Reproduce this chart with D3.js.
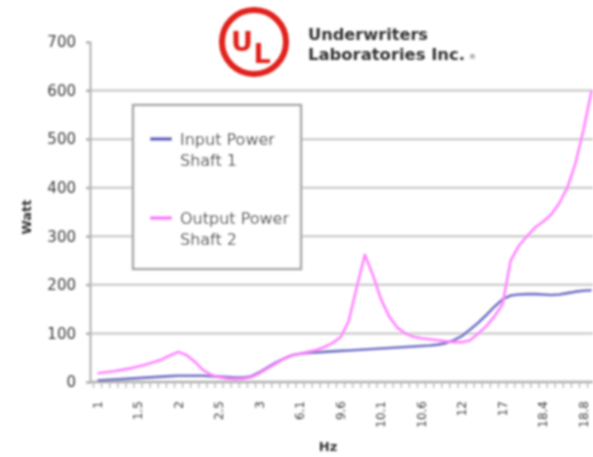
<!DOCTYPE html>
<html>
<head>
<meta charset="utf-8">
<script src="https://cdn.jsdelivr.net/npm/d3@7"></script>
<style>
  html, body { margin: 0; padding: 0; background: #fff; }
  svg { display: block; }
</style>
</head>
<body>
<svg id="chart" width="593" height="457"></svg>
<script>
// ---- data ----
const tickLabels = ["1", "1.5", "2", "2.5", "3", "6.1", "9.6", "10.1", "10.6", "12", "17", "18.4", "18.8"];
const labelEvery = 5;
const seriesNames = ["Input Power\nShaft 1", "Output Power\nShaft 2"];
const inputPower = [3, 4, 5, 6, 7, 8, 9, 10, 11, 12, 13, 13, 13, 13, 12, 11, 10, 9, 9, 12,
  20, 30, 40, 48, 55, 58, 60, 61, 62, 63, 64, 65, 66, 67, 68, 69, 70, 71, 72, 73,
  74, 75, 77, 80, 86, 95, 108, 122, 138, 155, 170, 178, 180, 181, 181, 180, 179, 180, 183, 186,
  188, 189];
const outputPower = [18, 20, 22, 25, 28, 32, 36, 41, 47, 55, 62, 55, 42, 25, 15, 10, 7, 6, 7, 10,
  18, 28, 38, 48, 55, 58, 62, 66, 72, 80, 92, 125, 195, 262, 220, 170, 135, 112, 100, 93,
  90, 88, 86, 84, 82, 82, 86, 100, 115, 135, 160, 250, 280, 300, 318, 330, 345, 368, 400, 450,
  520, 600];
const yTicks = [0, 100, 200, 300, 400, 500, 600, 700];
const colors = ["#6b6bc4", "#ff80ff"];

// ---- layout ----
const svg = d3.select("#chart");
const defs = svg.append("defs");
defs.append("filter").attr("id", "soft")
  .attr("x", "-5%").attr("y", "-5%").attr("width", "110%").attr("height", "110%")
  .append("feGaussianBlur").attr("stdDeviation", 0.9);

const root = svg.append("g").attr("filter", "url(#soft)");

const n = inputPower.length;
const plot = { left: 90, top: 42, bottom: 382 };
const x = d3.scaleBand().domain(d3.range(n)).range([93.5, 93.5 + 8.1 * n]).paddingInner(0).paddingOuter(0);
const y = d3.scaleLinear().domain([0, 700]).range([plot.bottom, plot.top]);
const cx = i => x(i) + x.bandwidth() / 2;

// gridlines
root.append("g").selectAll("line").data(yTicks.filter(v => v > 0 && v < 700)).join("line")
  .attr("x1", 86).attr("x2", 593)
  .attr("y1", d => y(d)).attr("y2", d => y(d))
  .attr("stroke", "#cfcfcf").attr("stroke-width", 2.5);

// y axis
const yAxis = d3.axisLeft(y).tickValues(yTicks).tickSize(4).tickPadding(10);
const yg = root.append("g").attr("transform", `translate(${plot.left},0)`).call(yAxis);
yg.select(".domain").attr("stroke", "#b0b0b0").attr("stroke-width", 2);
yg.selectAll(".tick line").attr("stroke", "#b0b0b0").attr("stroke-width", 2);
yg.selectAll(".tick text")
  .attr("font-family", "DejaVu Sans").attr("font-size", 15).attr("fill", "#3a3a3a");

// x axis (category ticks at boundaries)
const xg = root.append("g");
xg.append("line").attr("x1", plot.left).attr("x2", 593)
  .attr("y1", plot.bottom).attr("y2", plot.bottom)
  .attr("stroke", "#b0b0b0").attr("stroke-width", 2.5);
xg.selectAll("line.tk").data(d3.range(n)).join("line").attr("class", "tk")
  .attr("x1", d => x(d)).attr("x2", d => x(d))
  .attr("y1", plot.bottom).attr("y2", plot.bottom + 6)
  .attr("stroke", "#bdbdbd").attr("stroke-width", 1.5);
xg.selectAll("text").data(tickLabels).join("text")
  .attr("transform", (d, i) => `translate(${cx(i * labelEvery) + 4},401) rotate(-90)`)
  .attr("text-anchor", "end")
  .attr("font-family", "DejaVu Sans").attr("font-size", 12).attr("fill", "#3a3a3a")
  .text(d => d);

// axis titles
root.append("text").attr("x", 328).attr("y", 451).attr("text-anchor", "middle")
  .attr("font-family", "DejaVu Sans").attr("font-weight", "bold").attr("font-size", 13)
  .attr("fill", "#333").text("Hz");
root.append("text").attr("transform", "translate(31,217) rotate(-90)").attr("text-anchor", "middle")
  .attr("font-family", "DejaVu Sans").attr("font-weight", "bold").attr("font-size", 13)
  .attr("fill", "#333").text("Watt");

// lines
const line = d3.line().x((d, i) => cx(i)).y(d => y(d)).curve(d3.curveLinear);
[inputPower, outputPower].forEach((s, k) => {
  root.append("path").datum(s).attr("d", line)
    .attr("fill", "none").attr("stroke", colors[k]).attr("stroke-width", 2.6)
    .attr("stroke-linejoin", "round").attr("stroke-opacity", 0.95);
});

// legend
const lg = root.append("g");
lg.append("rect").attr("x", 133).attr("y", 105).attr("width", 168).attr("height", 164)
  .attr("fill", "#fff").attr("stroke", "#a8a8a8").attr("stroke-width", 2.5);
const legendRows = [{ y: 139 }, { y: 218 }];
seriesNames.forEach((name, k) => {
  const yy = legendRows[k].y;
  lg.append("line").attr("x1", 150).attr("x2", 172).attr("y1", yy).attr("y2", yy)
    .attr("stroke", colors[k]).attr("stroke-width", 4);
  const parts = name.split("\n");
  parts.forEach((p, j) => {
    lg.append("text").attr("x", 180).attr("y", yy + 6 + j * 21)
      .attr("font-family", "DejaVu Sans").attr("font-size", 16).attr("fill", "#3a3a3a")
      .text(p);
  });
});

// UL logo header
const logo = root.append("g");
logo.append("circle").attr("cx", 254).attr("cy", 42).attr("r", 32)
  .attr("fill", "none").attr("stroke", "#e0201c").attr("stroke-width", 6);
logo.append("text").attr("x", 242).attr("y", 51).attr("text-anchor", "middle")
  .attr("font-family", "DejaVu Sans").attr("font-weight", "bold").attr("font-size", 27)
  .attr("fill", "#e0201c").text("U");
logo.append("text").attr("x", 262).attr("y", 63).attr("text-anchor", "middle")
  .attr("font-family", "DejaVu Sans").attr("font-weight", "bold").attr("font-size", 27)
  .attr("fill", "#e0201c").text("L");
logo.append("text").attr("x", 308).attr("y", 40)
  .attr("font-family", "DejaVu Sans").attr("font-weight", "bold").attr("font-size", 15)
  .attr("textLength", 120).attr("lengthAdjust", "spacingAndGlyphs")
  .attr("fill", "#333").text("Underwriters");
logo.append("text").attr("x", 308).attr("y", 60)
  .attr("font-family", "DejaVu Sans").attr("font-weight", "bold").attr("font-size", 15)
  .attr("textLength", 157).attr("lengthAdjust", "spacingAndGlyphs")
  .attr("fill", "#333").text("Laboratories Inc.");
logo.append("text").attr("x", 469).attr("y", 59)
  .attr("font-family", "DejaVu Sans").attr("font-size", 7)
  .attr("fill", "#555").text("®");
</script>
</body>
</html>
